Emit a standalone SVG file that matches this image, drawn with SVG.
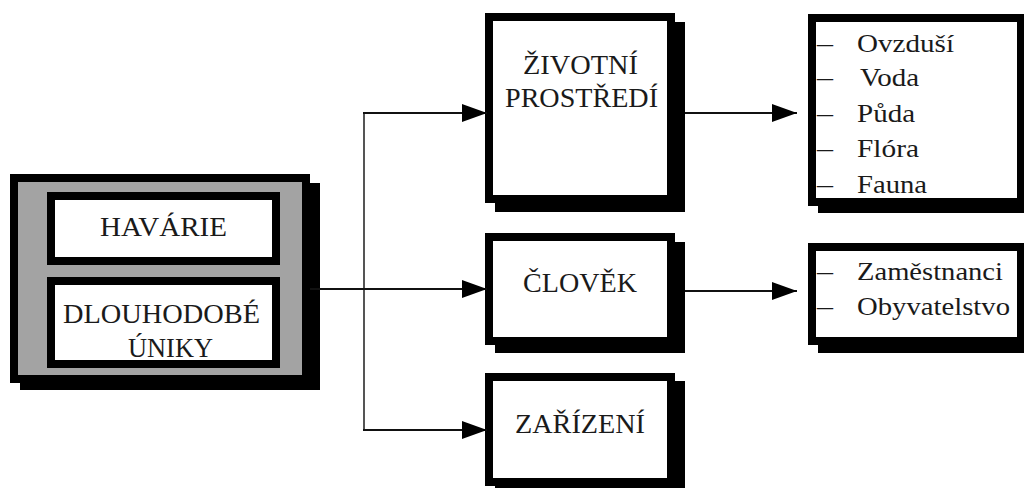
<svg xmlns="http://www.w3.org/2000/svg" width="1024" height="488" viewBox="0 0 1024 488">
  <defs>
    <marker id="arr" markerUnits="userSpaceOnUse" markerWidth="25" markerHeight="18" refX="25" refY="9" orient="auto">
      <path d="M0,0 L25,9 L0,18 z" fill="#000"/>
    </marker>
  </defs>
  <style>
    .box { fill: #fff; stroke: #000; stroke-width: 8; }
    .shadow { fill: #000; }
    .lbl { font-family: 'Liberation Serif', 'DejaVu Serif', serif; font-size: 27px; fill: #1a1a1a; }
    .li { font-family: 'Liberation Serif', 'DejaVu Serif', serif; font-size: 26px; fill: #1a1a1a; }
    .conn { fill: none; stroke: #111; stroke-width: 2; }
    .vert { fill: none; stroke: #555; stroke-width: 2; }
  </style>
  <rect width="1024" height="488" fill="#fff"/>

  <g id="zdroje">
    <rect class="shadow" x="20" y="183" width="300" height="207"/>
    <rect x="14" y="178" width="292" height="201" fill="#a3a3a3" stroke="#000" stroke-width="8"/>
    <g id="havarie">
      <rect class="box" x="51" y="196" width="225" height="65"/>
      <text class="lbl" x="100" y="236" textLength="127" lengthAdjust="spacingAndGlyphs">HAVÁRIE</text>
    </g>
    <g id="dlouhodobe-uniky">
      <rect class="box" x="51" y="281" width="225" height="83"/>
      <text class="lbl" x="63" y="323" textLength="197" lengthAdjust="spacingAndGlyphs">DLOUHODOBÉ</text>
      <text class="lbl" x="128" y="357" textLength="85" lengthAdjust="spacingAndGlyphs">ÚNIKY</text>
    </g>
  </g>

  <g id="zivotni-prostredi">
    <rect class="shadow" x="495" y="22" width="190" height="190"/>
    <rect class="box" x="489" y="17" width="182" height="182"/>
    <text class="lbl" x="523" y="74" textLength="115" lengthAdjust="spacingAndGlyphs">ŽIVOTNÍ</text>
    <text class="lbl" x="505" y="107" textLength="153" lengthAdjust="spacingAndGlyphs">PROSTŘEDÍ</text>
  </g>

  <g id="clovek">
    <rect class="shadow" x="495" y="242" width="190" height="111"/>
    <rect class="box" x="489" y="237" width="182" height="104"/>
    <text class="lbl" x="523" y="292" textLength="114" lengthAdjust="spacingAndGlyphs">ČLOVĚK</text>
  </g>

  <g id="zarizeni">
    <rect class="shadow" x="495" y="381" width="190" height="112"/>
    <rect class="box" x="489" y="377" width="182" height="105"/>
    <text class="lbl" x="515" y="433" textLength="130" lengthAdjust="spacingAndGlyphs">ZAŘÍZENÍ</text>
  </g>

  <g id="slozky-prostredi">
    <rect class="shadow" x="818" y="22" width="220" height="191"/>
    <rect class="box" x="812" y="18" width="209" height="184"/>
    <text class="li" x="817" y="52" textLength="16" lengthAdjust="spacingAndGlyphs">–</text>
    <text class="li" x="857" y="52" textLength="97" lengthAdjust="spacingAndGlyphs">Ovzduší</text>
    <text class="li" x="817" y="86" textLength="16" lengthAdjust="spacingAndGlyphs">–</text>
    <text class="li" x="860" y="86" textLength="59" lengthAdjust="spacingAndGlyphs">Voda</text>
    <text class="li" x="817" y="122" textLength="16" lengthAdjust="spacingAndGlyphs">–</text>
    <text class="li" x="857" y="122" textLength="58" lengthAdjust="spacingAndGlyphs">Půda</text>
    <text class="li" x="817" y="157" textLength="16" lengthAdjust="spacingAndGlyphs">–</text>
    <text class="li" x="857" y="157" textLength="62" lengthAdjust="spacingAndGlyphs">Flóra</text>
    <text class="li" x="817" y="193" textLength="16" lengthAdjust="spacingAndGlyphs">–</text>
    <text class="li" x="857" y="193" textLength="70" lengthAdjust="spacingAndGlyphs">Fauna</text>
  </g>

  <g id="skupiny-lidi">
    <rect class="shadow" x="818" y="251" width="220" height="102"/>
    <rect class="box" x="812" y="247" width="209" height="94"/>
    <text class="li" x="817" y="280" textLength="16" lengthAdjust="spacingAndGlyphs">–</text>
    <text class="li" x="857" y="280" textLength="146" lengthAdjust="spacingAndGlyphs">Zaměstnanci</text>
    <text class="li" x="817" y="315" textLength="16" lengthAdjust="spacingAndGlyphs">–</text>
    <text class="li" x="857" y="315" textLength="153" lengthAdjust="spacingAndGlyphs">Obyvatelstvo</text>
  </g>

  <g id="connectors">
    <line class="vert" x1="364" y1="113" x2="364" y2="430"/>
    <line class="conn" x1="310" y1="289" x2="487" y2="289" marker-end="url(#arr)"/>
    <line class="conn" x1="363" y1="113" x2="487" y2="113" marker-end="url(#arr)"/>
    <line class="conn" x1="363" y1="430" x2="487" y2="430" marker-end="url(#arr)"/>
    <line class="conn" x1="685" y1="113" x2="797" y2="113" marker-end="url(#arr)"/>
    <line class="conn" x1="685" y1="291" x2="797" y2="291" marker-end="url(#arr)"/>
  </g>
</svg>
